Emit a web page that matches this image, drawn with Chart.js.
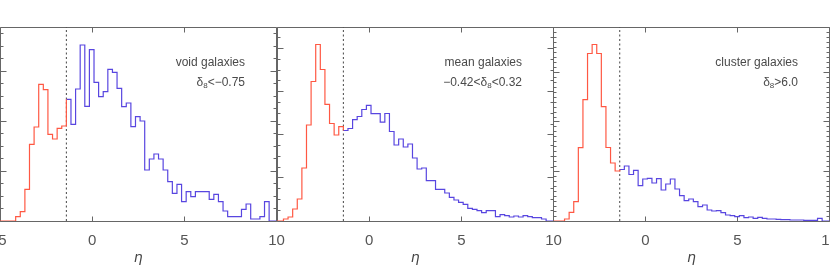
<!DOCTYPE html>
<html><head><meta charset="utf-8">
<script src="https://cdn.jsdelivr.net/npm/chart.js@4"></script>
<style>
html,body{margin:0;padding:0;background:#fff;}
#wrap{position:relative;width:830px;height:277px;overflow:hidden;background:#fff;}
canvas{position:absolute;left:0;top:0;}
</style></head><body>
<div id="wrap">
<canvas id="c1" width="830" height="277"></canvas>
<canvas id="c2" width="830" height="277"></canvas>
<canvas id="c3" width="830" height="277"></canvas>
</div>
<script>
// ---- data (bin left edges in eta, bin width 0.25) ----
const redBinEdges = [-4.9,-4.65,-4.4,-4.15,-3.9,-3.65,-3.4,-3.15,-2.9,-2.65,-2.4,-2.15,-1.9,-1.65];
const blueBinEdges = [-1.4,-1.15,-0.9,-0.65,-0.4,-0.15,0.1,0.35,0.6,0.85,1.1,1.35,1.6,1.85,2.1,2.35,2.6,2.85,3.1,3.35,3.6,3.85,4.1,4.35,4.6,4.85,5.1,5.35,5.6,5.85,6.1,6.35,6.6,6.85,7.1,7.35,7.6,7.85,8.1,8.35,8.6,8.85,9.1,9.35];
const histEnd = 9.6;
const etaCut = -1.4;
const xTicks = [-5, 0, 5, 10];

// void galaxies
const voidRed = [0,0,0,4.3,9.3,31.7,76.7,94,136.7,131.3,86.7,82,92.7,95];
const voidBlue = [121.7,96.7,132,176,114.7,171.3,138.7,124.3,129.3,151.7,148.7,132.7,114.3,118,94.3,104.3,100,51,62,67,62,51,39.3,27.7,36.7,19.3,29.3,24.3,29.3,29.3,29.3,21.7,26.7,19.3,10,4.3,4.3,4.3,11.7,17,2,2,4.3,19.3];
// mean galaxies
const meanRed = [0,2,4,12,22,53,96,139.5,176.5,151.5,116.7,97.5,86,94.3];
const meanBlue = [90.5,92.5,101.3,104.5,111.5,115.7,107.3,107.3,98.8,107.5,89.5,76,82,74,77,63,52,53,40.3,40.3,31.7,31.7,28,23.7,21,18.7,16.7,12.7,11.7,10.3,8.3,10.3,10.3,4.3,6.3,5.3,4,5,4,5.3,4.3,3.3,3.3,2];
// cluster galaxies
const clusterRed = [0,0,2,8.7,19.3,73.3,121.3,167.5,176.5,167.5,114.3,73.5,58,50];
const clusterBlue = [51.5,55,46.5,50.7,35.3,42,42.7,38,42.3,31,37,42,32,25.3,20.3,22,19.3,14.3,16,11,10,10.3,8.3,6,5.3,4.3,5.3,3.3,4,2.7,3.7,2.7,2,2,1.7,1.3,1.3,1,1,1,0.7,0.7,0.7,2.7];

const panelLabels = ['void galaxies','mean galaxies','cluster galaxies'];
const densityPre = ['', '\u22120.42<', ''];
const densityPost = ['<\u22120.75', '<0.32', '>6.0'];

const RED = '#ff5843';
const BLUE = '#5846e0';
const AXIS = '#666666';
const TEXT = '#4a4a4a';

// ---- plugins ----
const px = v => Math.floor(v) + 0.5;
const frameTicks = {
  id: 'frameTicks',
  beforeDatasetsDraw(chart, args, opts) {
    const {ctx, chartArea: a, scales: {x, y}} = chart;
    const L = px(a.left), R = px(a.right), T = px(a.top), B = px(a.bottom);
    ctx.save();
    ctx.strokeStyle = AXIS; ctx.lineWidth = 1;
    ctx.beginPath();
    ctx.moveTo(L, T); ctx.lineTo(R, T); ctx.lineTo(R, B); ctx.lineTo(L, B); ctx.closePath();
    xTicks.forEach(v => {
      const p = px(x.getPixelForValue(v));
      ctx.moveTo(p, B); ctx.lineTo(p, B - 5);
      ctx.moveTo(p, T); ctx.lineTo(p, T + 5);
    });
    let i = 0;
    for (let v = 0; v <= y.max + 1e-6; v += opts.minor, i++) {
      const p = px(y.getPixelForValue(v));
      const len = (i % opts.majorEvery === 0) ? 6 : 3;
      ctx.moveTo(L, p); ctx.lineTo(L + len, p);
      ctx.moveTo(R, p); ctx.lineTo(R - len, p);
    }
    ctx.stroke();
    ctx.restore();
  }
};
const panelText = {
  id: 'panelText',
  afterDraw(chart, args, opts) {
    const {ctx, chartArea: a} = chart;
    const right = a.right - 31.5;
    ctx.save();
    ctx.fillStyle = TEXT;
    ctx.textAlign = 'left';
    ctx.textBaseline = 'alphabetic';
    const f = '12px "Liberation Sans", Arial, sans-serif';
    const fs = '8px "Liberation Sans", Arial, sans-serif';
    ctx.font = f;
    const w1 = ctx.measureText(opts.label).width;
    ctx.fillText(opts.label, right - w1, a.top + 39);
    const wPre = ctx.measureText(opts.pre).width;
    const wD = ctx.measureText('\u03b4').width;
    const wPost = ctx.measureText(opts.post).width;
    ctx.font = fs;
    const w8 = ctx.measureText('8').width;
    let xx = right - (wPre + wD + w8 + wPost);
    const base = a.top + 58.5;
    ctx.font = f;
    ctx.fillText(opts.pre, xx, base); xx += wPre;
    ctx.fillText('\u03b4', xx, base); xx += wD;
    ctx.font = fs;
    ctx.fillText('8', xx, base + 2.5); xx += w8;
    ctx.font = f;
    ctx.fillText(opts.post, xx, base);
    ctx.restore();
  }
};

function pts(edges, vals) { return edges.map((e, i) => ({x: e, y: vals[i]})); }

function makePanel(id, idx, red, blue, padL, padR, minor, majorEvery) {
  const redData = [{x: -5, y: 0}].concat(pts(redBinEdges, red), [{x: etaCut, y: blue[0]}]);
  const blueData = pts(blueBinEdges, blue).concat([{x: histEnd, y: 0}, {x: 10, y: 0}]);
  new Chart(document.getElementById(id), {
    type: 'line',
    data: {
      datasets: [
        {data: redData, borderColor: RED, borderWidth: 1.2, stepped: 'before', pointRadius: 0, fill: false},
        {data: blueData, borderColor: BLUE, borderWidth: 1.2, stepped: 'before', pointRadius: 0, fill: false},
        {data: [{x: etaCut, y: 0}, {x: etaCut, y: 194}], borderColor: '#444', borderWidth: 1, borderDash: [2, 2.5], pointRadius: 0, fill: false}
      ]
    },
    options: {
      responsive: false,
      animation: false,
      events: [],
      layout: {padding: {left: padL, right: padR, top: 27, bottom: 0}, autoPadding: false},
      plugins: {
        legend: {display: false},
        tooltip: {enabled: false},
        frameTicks: {minor: minor, majorEvery: majorEvery},
        panelText: {label: panelLabels[idx], pre: densityPre[idx], post: densityPost[idx]}
      },
      scales: {
        x: {
          type: 'linear', min: -5, max: 10,
          grid: {display: false},
          border: {display: false},
          afterBuildTicks: s => { s.ticks = xTicks.map(v => ({value: v})); },
          afterFit: s => { s.height = 56; s.paddingLeft = 0; s.paddingRight = 0; },
          ticks: {
            color: '#555', padding: 3, maxRotation: 0, autoSkip: false,
            font: {family: '"Liberation Sans", Arial, sans-serif', size: 15},
            callback: v => (idx > 0 && v === -5) ? '' : String(v)
          },
          title: {display: true, text: '\u03b7', color: '#444',
            font: {family: '"DejaVu Sans", sans-serif', size: 14, style: 'italic'},
            padding: {top: 0, bottom: 10}}
        },
        y: {type: 'linear', min: 0, max: 194, display: false}
      }
    },
    plugins: [frameTicks, panelText]
  });
}

makePanel('c1', 0, voidRed, voidBlue, 0, 553.5, 12.47, 4);
makePanel('c2', 1, meanRed, meanBlue, 277, 276.5, 10.77, 4);
makePanel('c3', 2, clusterRed, clusterBlue, 553.5, 0.5, 4.95, 10);
</script>
</body></html>
